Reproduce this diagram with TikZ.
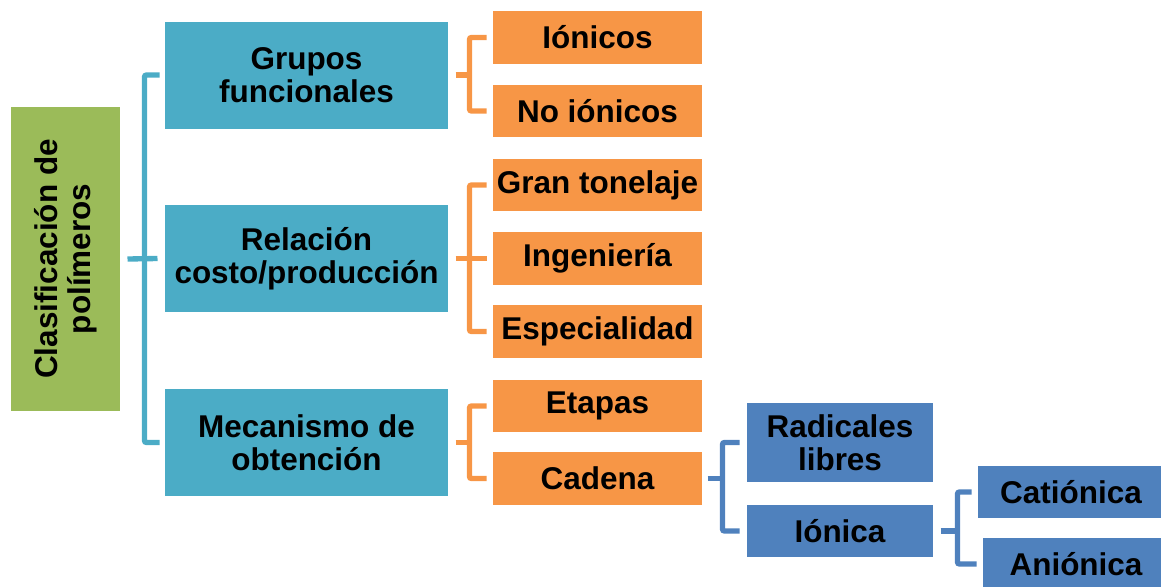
\documentclass[tikz,border=0pt]{standalone}
\usepackage{fontspec}
\setmainfont{Liberation Sans}

\definecolor{verde}{RGB}{155,187,89}
\definecolor{turquesa}{RGB}{75,172,198}
\definecolor{naranja}{RGB}{247,150,70}
\definecolor{azul}{RGB}{79,129,189}

\tikzset{every picture/.style={line width=0.75pt}}
\tikzset{
	caja/.style={inner sep=0pt, align=center, text=black,
		font=\fontsize{23.6}{24.8}\selectfont\bfseries},
	raiz/.style={caja, fill=verde, rotate=90, minimum width=228pt, minimum height=81.75pt},
	tipo/.style={caja, fill=turquesa, minimum width=212.25pt, minimum height=80.25pt},
	clase/.style={caja, fill=naranja, minimum width=156.75pt, minimum height=39.4pt},
	sub/.style={caja, fill=azul, minimum width=139.5pt, minimum height=39pt},
	llave/.style={line width=4pt, rounded corners=1.5pt}}

\begin{document}
\begin{tikzpicture}[x=0.75pt,y=0.75pt,yscale=-1,xscale=1]
	\useasboundingbox (0,0) rectangle (1161,586);

	% Raiz
	\node [raiz] (root) at (65.5,259) {Clasificación de\\polímeros};

	% Tipos de clasificacion
	\node [tipo] (grupos) at (306.5,75) {Grupos\\funcionales};
	\node [tipo] (relacion) at (306.5,258.5) {Relación\\costo/producción};
	\node [tipo] (mecanismo) at (306.5,442.5) {Mecanismo de\\obtención};

	% Clases
	\node [clase] (ionicos) at (597.5,37.5) {Iónicos};
	\node [clase] (noionicos) at (597.5,111) {No iónicos};
	\node [clase] (gran) at (597.5,185) {Gran tonelaje};
	\node [clase] (ingenieria) at (597.5,258.5) {Ingeniería};
	\node [clase] (especialidad) at (597.5,331.5) {Especialidad};
	\node [clase] (etapas) at (597.5,406) {Etapas};
	\node [clase] (cadena) at (597.5,478.5) {Cadena};

	% Subclases
	\node [sub, minimum height=59.25pt] (radicales) at (840,442.5) {Radicales\\libres};
	\node [sub] (ionica) at (840,531) {Iónica};
	\node [sub] (cationica) at (1071,492) {Catiónica};
	\node [sub] (anionica) at (1076,564) {Aniónica};

	% Llave principal
	\draw [llave, turquesa] ([xshift=-3.75pt]grupos.west) -| ([xshift=-15pt]mecanismo.west) -- ([xshift=-3.75pt]mecanismo.west);
	\draw [llave, turquesa] ([xshift=5.25pt]root.south) -- ([xshift=-5.25pt]relacion.west);

	% Llaves naranjas
	\draw [llave, naranja] ([xshift=-4.5pt]ionicos.west) -| ([xshift=-17.25pt]noionicos.west) -- ([xshift=-4.5pt]noionicos.west);
	\draw [llave, naranja] ([xshift=5.25pt]grupos.east) -- ([xshift=-17.25pt]ionicos.west |- grupos.east);
	\draw [llave, naranja] ([xshift=-4.5pt]gran.west) -| ([xshift=-17.25pt]especialidad.west) -- ([xshift=-4.5pt]especialidad.west);
	\draw [llave, naranja] ([xshift=5.25pt]relacion.east) -- ([xshift=-4.5pt]ingenieria.west);
	\draw [llave, naranja] ([xshift=-4.5pt]etapas.west) -| ([xshift=-17.25pt]cadena.west) -- ([xshift=-4.5pt]cadena.west);
	\draw [llave, naranja] ([xshift=5.25pt]mecanismo.east) -- ([xshift=-17.25pt]etapas.west |- mecanismo.east);

	% Llaves azules
	\draw [llave, azul] ([xshift=-5.25pt]radicales.west) -| ([xshift=-18pt]ionica.west) -- ([xshift=-5.25pt]ionica.west);
	\draw [llave, azul] ([xshift=3.75pt]cadena.east) -- ([xshift=-18pt]radicales.west |- cadena.east);
	\draw [llave, azul] ([xshift=-4.5pt]cationica.west) -| ([xshift=-15pt]cationica.west |- anionica.west) -- ([xshift=-4.5pt]anionica.west);
	\draw [llave, azul] ([xshift=5.25pt]ionica.east) -- ([xshift=-15pt]cationica.west |- ionica.east);

\end{tikzpicture}
\end{document}
